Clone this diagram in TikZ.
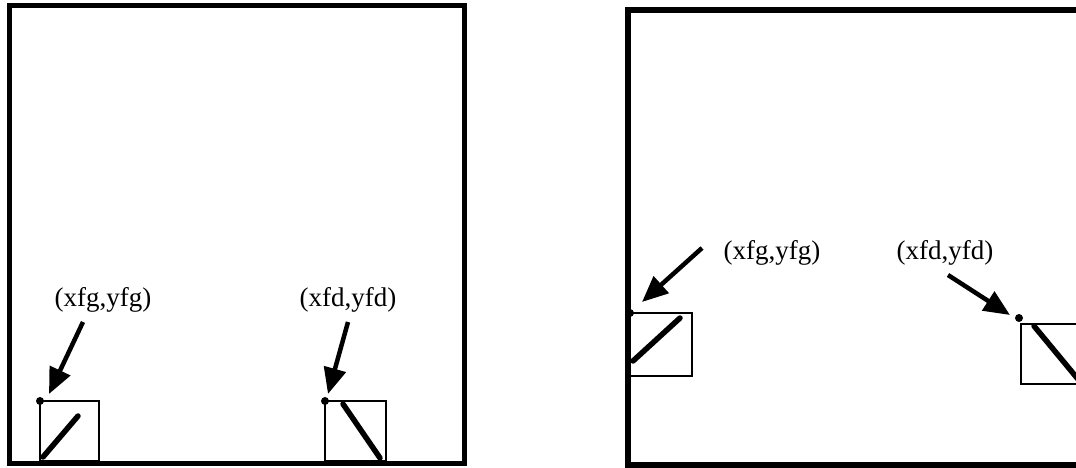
\documentclass[tikz,border=0pt]{standalone}
\usepackage{fontspec}
\setmainfont{Liberation Serif}
\usetikzlibrary{arrows.meta,calc}
\begin{document}
\begin{tikzpicture}[x=1pt,y=-1pt,
  frame/.style={line width=5pt},
  sbox/.style={line width=2.2pt},
  bar/.style={line width=5.5pt,line cap=round},
  ptr/.style={line width=4.5pt,-{Triangle[length=26pt,width=22pt]}},
  lbl/.style={font=\fontsize{27}{29}\selectfont,inner sep=0pt},
  dotst/.style={circle,fill=black,inner sep=0pt,minimum size=8pt}]
\useasboundingbox (0,0) rectangle (1076,468);
\clip (0,0) rectangle (1076,468);
% left frame
\draw[frame] (9.5,6) rectangle (464,463);
\draw[sbox] (40,401) rectangle (99,461);
\draw[bar] (43,457) -- (78,416);
\node[dotst] (pa) at (40,401) {};
\node[lbl] (la) at (103,300) {(xfg,yfg)};
\coordinate (sa) at (83,322);
\draw[ptr] (sa) -- ($(pa)+(9,-7)$);
\draw[sbox] (325,401) rectangle (386,461);
\draw[bar] (343,404) -- (380,458);
\node[dotst] (pb) at (325,401) {};
\node[lbl] (lb) at (348,300) {(xfd,yfd)};
\coordinate (sb) at (348,322);
\draw[ptr] (sb) -- ($(pb)+(3,-7)$);
% right frame
\draw[frame,line width=6pt] (628,10) rectangle (1110,465);
\draw[sbox] (630,313) rectangle (692,376);
\draw[bar] (633,361) -- (680,318);
\node[dotst] (pc) at (630,313) {};
\node[lbl] (lc) at (772,253) {(xfg,yfg)};
\coordinate (sc) at (702,248);
\draw[ptr] (sc) -- ($(pc)+(12,-11)$);
\draw[sbox] (1021,324) rectangle (1084,384);
\draw[bar] (1034,326) -- (1082,384);
\node[dotst] (pd) at (1019,318) {};
\node[lbl] (ld) at (945,253) {(xfd,yfd)};
\coordinate (sd) at (948,275);
\draw[ptr] (sd) -- ($(pd)+(-9,-3)$);
\end{tikzpicture}
\end{document}
